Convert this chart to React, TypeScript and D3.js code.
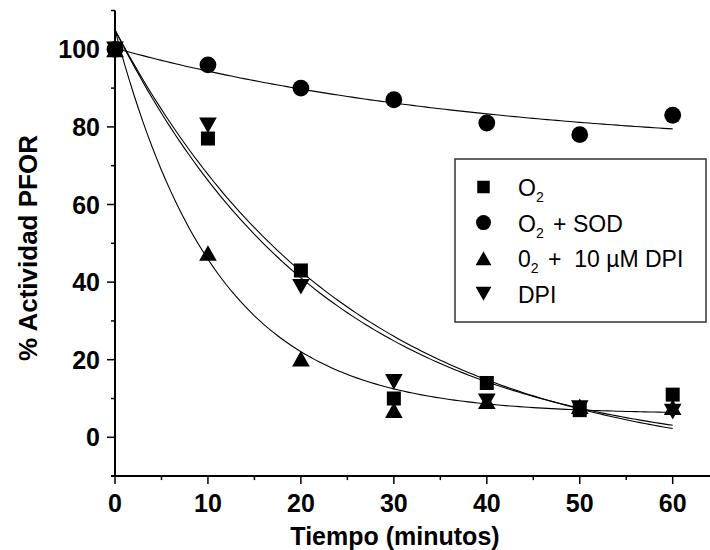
import React from "react";
import * as d3 from "d3";

const times = [0, 10, 20, 30, 40, 50, 60];
const o2 = [100, 77, 43, 10, 14, 7, 11];
const o2sod = [100, 96, 90, 87, 81, 78, 83];
const o2dpi = [100, 47.5, 20.3, 7, 9.3, 8, 7.8];
const dpi = [100, 80.4, 38.8, 14.3, 9.3, 7.5, 6.6];

// exponential-decay fit parameters (y0 + A*exp(-x/t))
const fitNames = ["O2", "O2 + SOD", "O2 + 10 uM DPI", "DPI"];
const fitY0 = [-5, 73.5, 6, -8];
const fitA = [110, 26.8, 99, 113];
const fitT = [23, 40, 11, 25];

const xMajor = [0, 10, 20, 30, 40, 50, 60];
const xMinor = [5, 15, 25, 35, 45, 55];
const yMajor = [0, 20, 40, 60, 80, 100];
const yMinor = [-10, 10, 30, 50, 70, 90, 110];

const FONT = "'Liberation Sans', Arial, Helvetica, sans-serif";

function Marker({ kind, cx, cy, s }: { kind: string; cx: number; cy: number; s: number }) {
  if (kind === "square") {
    return <rect x={cx - s / 2} y={cy - s / 2} width={s} height={s} fill="#000" />;
  }
  if (kind === "circle") {
    return <circle cx={cx} cy={cy} r={s * 0.6} fill="#000" />;
  }
  const w = s * 1.26;
  const h = s * 1.12;
  if (kind === "up") {
    return (
      <path
        d={`M${cx},${cy - h / 2}L${cx + w / 2},${cy + h / 2}L${cx - w / 2},${cy + h / 2}Z`}
        fill="#000"
      />
    );
  }
  return (
    <path
      d={`M${cx - w / 2},${cy - h / 2}L${cx + w / 2},${cy - h / 2}L${cx},${cy + h / 2}Z`}
      fill="#000"
    />
  );
}

export default function App() {
  const x = d3.scaleLinear().domain([0, 60]).range([115, 672.7]);
  const y = d3.scaleLinear().domain([0, 100]).range([437.3, 49.3]);

  const series = [
    { kind: "square", vals: o2 },
    { kind: "circle", vals: o2sod },
    { kind: "up", vals: o2dpi },
    { kind: "down", vals: dpi },
  ];

  const samples = d3.range(0, 60.001, 0.5);
  const line = d3
    .line<[number, number]>()
    .x((d) => x(d[0]))
    .y((d) => y(d[1]));

  const yBottom = y(-10);
  const yTop = y(110);

  const legendRows = [
    { kind: "square", label: [["O", false], ["2", true]] },
    { kind: "circle", label: [["O", false], ["2", true], [" + SOD", false]] },
    { kind: "up", label: [["0", false], ["2", true], [" +  10 \u00b5M DPI", false]] },
    { kind: "down", label: [["DPI", false]] },
  ];

  return (
    <svg
      width={710}
      height={550}
      style={{ position: "absolute", left: 0, top: 0, background: "#fff" }}
      fontFamily={FONT}
    >
      <rect x={0} y={0} width={710} height={550} fill="#fff" />
      {/* fit curves */}
      {fitNames.map((n, i) => (
        <path
          key={n}
          d={line(samples.map((t) => [t, fitY0[i] + fitA[i] * Math.exp(-t / fitT[i])]))!}
          fill="none"
          stroke="#000"
          strokeWidth={1.1}
        />
      ))}
      {/* markers */}
      {series.map((s, si) =>
        s.vals.map((v, i) => (
          <Marker key={si + "-" + i} kind={s.kind} cx={x(times[i])} cy={y(v)} s={14} />
        ))
      )}
      {/* axes */}
      <line x1={x(0)} x2={x(0)} y1={yTop} y2={yBottom} stroke="#000" strokeWidth={2} />
      <line x1={111} x2={712} y1={yBottom} y2={yBottom} stroke="#000" strokeWidth={2} />
      {yMajor.map((v) => (
        <g key={"ym" + v}>
          <line x1={x(0) - 8} x2={x(0)} y1={y(v)} y2={y(v)} stroke="#000" strokeWidth={1.5} />
          <text
            x={100}
            y={y(v) + 9}
            textAnchor="end"
            fontSize={25}
            fontWeight="bold"
          >
            {v}
          </text>
        </g>
      ))}
      {yMinor.map((v) => (
        <line key={"yn" + v} x1={x(0) - 4} x2={x(0)} y1={y(v)} y2={y(v)} stroke="#000" strokeWidth={1.5} />
      ))}
      {xMajor.map((v) => (
        <g key={"xm" + v}>
          <line x1={x(v)} x2={x(v)} y1={yBottom} y2={yBottom + 8} stroke="#000" strokeWidth={1.5} />
          <text x={x(v)} y={511.5} textAnchor="middle" fontSize={25} fontWeight="bold">
            {v}
          </text>
        </g>
      ))}
      {xMinor.map((v) => (
        <line key={"xn" + v} x1={x(v)} x2={x(v)} y1={yBottom} y2={yBottom + 4} stroke="#000" strokeWidth={1.5} />
      ))}
      <text x={395} y={545} textAnchor="middle" fontSize={25} fontWeight="bold">
        Tiempo (minutos)
      </text>
      <text
        transform="translate(36.5,248) rotate(-90)"
        textAnchor="middle"
        fontSize={26}
        fontWeight="bold"
      >
        % Actividad PFOR
      </text>
      {/* legend */}
      <rect x={455} y={159} width={251} height={163} fill="#fff" stroke="#333" strokeWidth={1.5} />
      {legendRows.map((r, i) => {
        const cy = 187 + i * 35.6;
        return (
          <g key={"lg" + i}>
            <Marker kind={r.kind} cx={483.5} cy={cy} s={12.5} />
            <text x={518} y={cy + 9} fontSize={23} style={{ whiteSpace: "pre" }}>
              {r.label.map(([t, sub], k) =>
                sub ? (
                  <tspan key={k} fontSize={14} dy={6}>
                    {t as string}
                  </tspan>
                ) : (
                  <tspan key={k} dy={k > 0 ? -6 : 0} dx={k > 0 ? 3 : 0}>
                    {t as string}
                  </tspan>
                )
              )}
            </text>
          </g>
        );
      })}
    </svg>
  );
}
